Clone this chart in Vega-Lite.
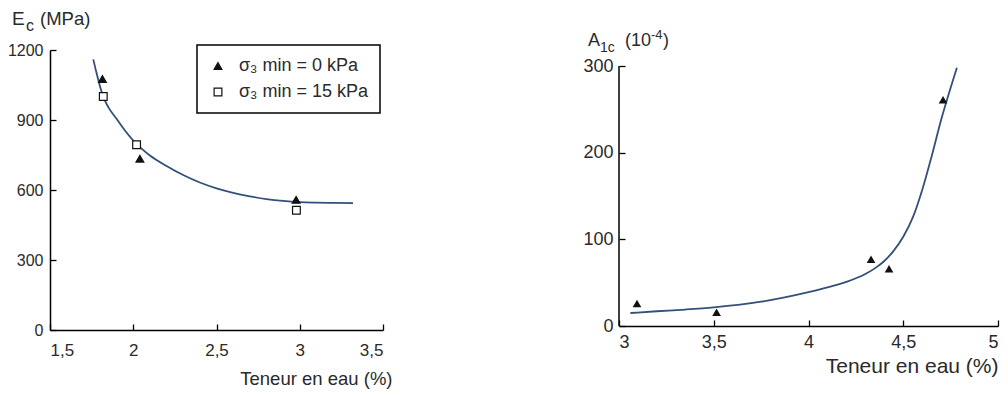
{
  "$schema": "https://vega.github.io/schema/vega-lite/v6.json",
  "background": "white",
  "padding": {"left": 7, "top": 10, "right": 5, "bottom": 5},
  "spacing": 190,
  "config": {
    "view": {"stroke": null},
    "font": "Liberation Sans",
    "axis": {
      "grid": false,
      "domainColor": "black",
      "domainWidth": 1.5,
      "tickColor": "black",
      "tickWidth": 1.3,
      "tickSize": -6,
      "labelFont": "Liberation Sans",
      "labelColor": "#2a2a2a",
      "titleColor": "#2a2a2a",
      "titleFont": "Liberation Sans",
      "titleFontWeight": "normal"
    },
    "legend": {
      "orient": "none",
      "legendX": 147,
      "legendY": -5,
      "strokeColor": "black",
      "strokeWidth": 1.5,
      "fillColor": "white",
      "padding": 12,
      "labelFont": "Liberation Sans",
      "labelFontSize": 18,
      "labelColor": "#2a2a2a",
      "symbolSize": 60,
      "symbolStrokeWidth": 1.2,
      "labelOffset": 12,
      "rowPadding": 8
    }
  },
  "hconcat": [
    {
      "width": 333,
      "height": 280,
      "layer": [
        {
          "data": {"values": [
            {"w": 1.76, "E": 1160}, {"w": 1.78, "E": 1100}, {"w": 1.80, "E": 1045},
            {"w": 1.82, "E": 1000}, {"w": 1.85, "E": 955}, {"w": 1.90, "E": 905},
            {"w": 1.95, "E": 855}, {"w": 2.00, "E": 812}, {"w": 2.05, "E": 777},
            {"w": 2.10, "E": 748}, {"w": 2.20, "E": 703}, {"w": 2.30, "E": 664},
            {"w": 2.40, "E": 632}, {"w": 2.50, "E": 607}, {"w": 2.60, "E": 588},
            {"w": 2.70, "E": 573}, {"w": 2.80, "E": 561}, {"w": 2.90, "E": 553},
            {"w": 3.00, "E": 548}, {"w": 3.10, "E": 546}, {"w": 3.20, "E": 545},
            {"w": 3.32, "E": 544}
          ]},
          "mark": {"type": "line", "color": "#34507a", "strokeWidth": 1.8, "interpolate": "monotone"},
          "encoding": {
            "x": {
              "field": "w", "type": "quantitative",
              "scale": {"domain": [1.5, 3.5], "nice": false, "zero": false},
              "axis": {
                "values": [1.5, 2, 2.5, 3, 3.5],
                "labelExpr": "replace(format(datum.value, '.1~f'), '.', ',')",
                "labelFontSize": 17,
                "labelPadding": 18,
                "title": "Teneur en eau (%)",
                "titleFontSize": 18.5,
                "titleAlign": "right",
                "titleAnchor": "end",
                "titleX": 342,
                "titleY": 54,
                "titleBaseline": "alphabetic"
              }
            },
            "y": {
              "field": "E", "type": "quantitative",
              "scale": {"domain": [0, 1200], "nice": false},
              "axis": {
                "values": [0, 300, 600, 900, 1200],
                "format": "d",
                "labelFontSize": 16,
                "labelPadding": 13,
                "title": null
              }
            }
          }
        },
        {
          "data": {"values": [
            {"w": 1.815, "E": 1076, "s": "σ₃ min = 0 kPa"},
            {"w": 2.04, "E": 734, "s": "σ₃ min = 0 kPa"},
            {"w": 2.978, "E": 558, "s": "σ₃ min = 0 kPa"},
            {"w": 1.82, "E": 1001, "s": "σ₃ min = 15 kPa"},
            {"w": 2.02, "E": 794, "s": "σ₃ min = 15 kPa"},
            {"w": 2.98, "E": 513, "s": "σ₃ min = 15 kPa"}
          ]},
          "mark": {"type": "point", "filled": true, "strokeWidth": 1.2, "opacity": 1, "size": 60},
          "encoding": {
            "x": {"field": "w", "type": "quantitative"},
            "y": {"field": "E", "type": "quantitative"},
            "shape": {
              "field": "s", "type": "nominal", "title": null,
              "scale": {"domain": ["σ₃ min = 0 kPa", "σ₃ min = 15 kPa"], "range": ["triangle-up", "square"]}
            },
            "fill": {
              "field": "s", "type": "nominal", "title": null,
              "scale": {"domain": ["σ₃ min = 0 kPa", "σ₃ min = 15 kPa"], "range": ["#111111", "white"]}
            },
            "stroke": {
              "field": "s", "type": "nominal", "title": null,
              "scale": {"domain": ["σ₃ min = 0 kPa", "σ₃ min = 15 kPa"], "range": ["#111111", "#111111"]}
            }
          }
        },
        {
          "data": {"values": [{"t": "E"}]},
          "mark": {"type": "text", "align": "left", "baseline": "alphabetic", "dx": -38, "dy": -25, "fontSize": 19, "font": "Liberation Sans", "color": "#2a2a2a"},
          "encoding": {"x": {"datum": 1.5}, "y": {"datum": 1200}, "text": {"field": "t"}}
        },
        {
          "data": {"values": [{"t": "c"}]},
          "mark": {"type": "text", "align": "left", "baseline": "alphabetic", "dx": -24, "dy": -19, "fontSize": 16, "font": "Liberation Sans", "color": "#2a2a2a"},
          "encoding": {"x": {"datum": 1.5}, "y": {"datum": 1200}, "text": {"field": "t"}}
        },
        {
          "data": {"values": [{"t": "(MPa)"}]},
          "mark": {"type": "text", "align": "left", "baseline": "alphabetic", "dx": -10, "dy": -25, "fontSize": 18.5, "font": "Liberation Sans", "color": "#2a2a2a"},
          "encoding": {"x": {"datum": 1.5}, "y": {"datum": 1200}, "text": {"field": "t"}}
        }
      ]
    },
    {
      "width": 379,
      "height": 276,
      "layer": [
        {
          "data": {"values": [
            {"w": 3.06, "A": 15}, {"w": 3.2, "A": 17}, {"w": 3.35, "A": 19},
            {"w": 3.5, "A": 21.5}, {"w": 3.75, "A": 28}, {"w": 4.0, "A": 39},
            {"w": 4.1, "A": 44.5}, {"w": 4.2, "A": 51}, {"w": 4.3, "A": 60},
            {"w": 4.35, "A": 66.5}, {"w": 4.4, "A": 75}, {"w": 4.45, "A": 87},
            {"w": 4.5, "A": 103}, {"w": 4.55, "A": 125}, {"w": 4.6, "A": 157},
            {"w": 4.65, "A": 196}, {"w": 4.7, "A": 238}, {"w": 4.75, "A": 275},
            {"w": 4.783, "A": 298}
          ]},
          "mark": {"type": "line", "color": "#34507a", "strokeWidth": 1.8, "interpolate": "monotone"},
          "encoding": {
            "x": {
              "field": "w", "type": "quantitative",
              "scale": {"domain": [3, 5], "nice": false, "zero": false},
              "axis": {
                "values": [3, 3.5, 4, 4.5, 5],
                "labelExpr": "replace(format(datum.value, '.1~f'), '.', ',')",
                "labelFontSize": 18,
                "labelPadding": 13,
                "title": "Teneur en eau (%)",
                "titleFontSize": 21,
                "titleAlign": "right",
                "titleAnchor": "end",
                "titleX": 379,
                "titleY": 46,
                "titleBaseline": "alphabetic"
              }
            },
            "y": {
              "field": "A", "type": "quantitative",
              "scale": {"domain": [0, 318.5], "nice": false},
              "axis": {
                "values": [0, 100, 200, 300],
                "domain": false,
                "labelFontSize": 18,
                "labelPadding": 12,
                "title": null
              }
            }
          }
        },
        {
          "data": {"values": [{"t": "axis"}]},
          "mark": {"type": "rule", "color": "black", "strokeWidth": 1.5},
          "encoding": {"x": {"datum": 3}, "y": {"datum": 0}, "y2": {"datum": 300}}
        },
        {
          "data": {"values": [
            {"w": 3.095, "A": 26}, {"w": 3.515, "A": 16}, {"w": 4.33, "A": 77},
            {"w": 4.425, "A": 66}, {"w": 4.71, "A": 261}
          ]},
          "mark": {"type": "point", "shape": "triangle-up", "filled": true, "color": "#111111", "opacity": 1, "size": 75},
          "encoding": {
            "x": {"field": "w", "type": "quantitative"},
            "y": {"field": "A", "type": "quantitative"}
          }
        },
        {
          "data": {"values": [{"t": "A"}]},
          "mark": {"type": "text", "align": "left", "baseline": "alphabetic", "dx": -31, "dy": -20, "fontSize": 18, "font": "Liberation Sans", "color": "#2a2a2a"},
          "encoding": {"x": {"datum": 3}, "y": {"datum": 300}, "text": {"field": "t"}}
        },
        {
          "data": {"values": [{"t": "1c"}]},
          "mark": {"type": "text", "align": "left", "baseline": "alphabetic", "dx": -19, "dy": -14, "fontSize": 14, "font": "Liberation Sans", "color": "#2a2a2a"},
          "encoding": {"x": {"datum": 3}, "y": {"datum": 300}, "text": {"field": "t"}}
        },
        {
          "data": {"values": [{"t": "(10"}]},
          "mark": {"type": "text", "align": "left", "baseline": "alphabetic", "dx": 6, "dy": -20, "fontSize": 18, "font": "Liberation Sans", "color": "#2a2a2a"},
          "encoding": {"x": {"datum": 3}, "y": {"datum": 300}, "text": {"field": "t"}}
        },
        {
          "data": {"values": [{"t": "-4"}]},
          "mark": {"type": "text", "align": "left", "baseline": "alphabetic", "dx": 32, "dy": -27, "fontSize": 13, "font": "Liberation Sans", "color": "#2a2a2a"},
          "encoding": {"x": {"datum": 3}, "y": {"datum": 300}, "text": {"field": "t"}}
        },
        {
          "data": {"values": [{"t": ")"}]},
          "mark": {"type": "text", "align": "left", "baseline": "alphabetic", "dx": 44, "dy": -20, "fontSize": 18, "font": "Liberation Sans", "color": "#2a2a2a"},
          "encoding": {"x": {"datum": 3}, "y": {"datum": 300}, "text": {"field": "t"}}
        }
      ]
    }
  ]
}
